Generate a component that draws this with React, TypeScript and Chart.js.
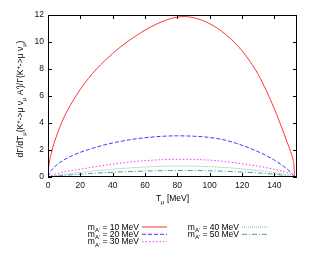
import React, { useEffect, useRef } from "react";
import { Chart, registerables } from "chart.js";

Chart.register(...registerables);

const X_TICKS = [0, 20, 40, 60, 80, 100, 120, 140];
const Y_TICKS = [0, 2, 4, 6, 8, 10, 12];
const X_MAX = 154;
const Y_MAX = 12;

const T10 = [0, 0.3, 1, 2, 3, 5, 7, 10, 15, 20, 25, 30, 35, 40, 45, 50, 55, 60, 65, 70, 75, 80, 85, 90, 95, 100, 105, 110, 115, 120, 125, 130, 135, 140, 143, 146, 148, 150, 151.5, 152.2, 152.4];
const V10 = [0, 0.6, 1.2, 1.75, 2.2, 2.95, 3.6, 4.45, 5.55, 6.5, 7.3, 8.0, 8.6, 9.15, 9.65, 10.1, 10.5, 10.88, 11.2, 11.48, 11.7, 11.85, 11.88, 11.8, 11.62, 11.36, 11.0, 10.55, 10.0, 9.35, 8.55, 7.6, 6.4, 5.05, 4.15, 3.2, 2.55, 1.9, 1.3, 0.7, 0];

const T20 = [0, 1, 2, 4, 7, 10, 15, 20, 25, 30, 40, 50, 60, 70, 80, 90, 100, 110, 120, 130, 135, 140, 145, 148, 150, 151.3, 152.1];
const V20 = [0, 0.3, 0.48, 0.75, 1.05, 1.28, 1.58, 1.83, 2.03, 2.22, 2.52, 2.75, 2.91, 3.01, 3.05, 3.02, 2.93, 2.72, 2.35, 1.87, 1.58, 1.25, 0.85, 0.58, 0.36, 0.18, 0];

const T30 = [0, 1, 3, 6, 10, 15, 20, 30, 40, 50, 60, 70, 80, 90, 100, 110, 120, 130, 140, 145, 148, 150, 151.6];
const V30 = [0, 0.08, 0.16, 0.26, 0.37, 0.48, 0.58, 0.77, 0.95, 1.1, 1.21, 1.28, 1.31, 1.3, 1.25, 1.14, 0.98, 0.8, 0.57, 0.43, 0.3, 0.18, 0];

const T40 = [0, 3, 6, 10, 20, 30, 40, 50, 60, 70, 80, 90, 100, 110, 120, 130, 140, 145, 148, 150.9];
const V40 = [0, 0.06, 0.12, 0.19, 0.34, 0.47, 0.58, 0.67, 0.74, 0.79, 0.81, 0.8, 0.77, 0.7, 0.6, 0.48, 0.33, 0.23, 0.15, 0];

const T50 = [0, 3, 6, 10, 20, 30, 40, 50, 60, 70, 80, 90, 100, 110, 120, 130, 140, 145, 148, 150];
const V50 = [0, 0.04, 0.08, 0.12, 0.21, 0.29, 0.35, 0.4, 0.44, 0.47, 0.48, 0.48, 0.46, 0.42, 0.37, 0.3, 0.2, 0.14, 0.08, 0];

const MASSES = ["10", "20", "30", "40", "50"];
const COLORS = ["#ff3333", "#3a3aff", "#ff33ff", "#88c088", "#33a6a6"];
const DASHES: number[][] = [[], [4, 2], [1.5, 2], [1, 1], [5, 2, 1, 2]];

const FONT = "'Liberation Sans', Arial, Helvetica, sans-serif";

type Seg = { t: string; m?: "sub" | "sup" };

function segWidth(ctx: CanvasRenderingContext2D, segs: Seg[], size: number) {
  let w = 0;
  for (const s of segs) {
    const sz = s.m ? size * 0.7 : size;
    ctx.font = `${sz}px ${FONT}`;
    w += ctx.measureText(s.t).width;
  }
  return w;
}

function drawSegs(ctx: CanvasRenderingContext2D, segs: Seg[], x: number, y: number, size: number) {
  let cx = x;
  ctx.textBaseline = "alphabetic";
  ctx.textAlign = "left";
  for (const s of segs) {
    const sz = s.m ? size * 0.7 : size;
    ctx.font = `${sz}px ${FONT}`;
    const dy = s.m === "sub" ? size * 0.3 : s.m === "sup" ? -size * 0.4 : 0;
    ctx.fillText(s.t, cx, y + dy);
    cx += ctx.measureText(s.t).width;
  }
}

const Y_TITLE: Seg[] = [
  { t: "d\u0393/dT" }, { t: "\u03bc", m: "sub" }, { t: "(K" }, { t: "+", m: "sup" },
  { t: "->\u03bc \u03bd" }, { t: "\u03bc", m: "sub" }, { t: " A')/\u0393(K" }, { t: "+", m: "sup" },
  { t: "->\u03bc \u03bd" }, { t: "\u03bc", m: "sub" }, { t: ")" },
];
const X_TITLE: Seg[] = [{ t: "T" }, { t: "\u03bc", m: "sub" }, { t: " [MeV]" }];

const overlay = {
  id: "overlay",
  afterDraw(chart: any) {
    const { ctx, chartArea } = chart;
    const { left, right, top, bottom } = chartArea;
    const xs = chart.scales.x;
    const ys = chart.scales.y;
    ctx.save();
    ctx.strokeStyle = "#000";
    ctx.lineWidth = 1;
    ctx.setLineDash([]);
    ctx.beginPath();
    for (const v of X_TICKS) {
      const px = Math.round(xs.getPixelForValue(v)) + 0.5;
      ctx.moveTo(px, bottom);
      ctx.lineTo(px, bottom - 4);
      ctx.moveTo(px, top);
      ctx.lineTo(px, top + 4);
    }
    for (const v of Y_TICKS) {
      const py = Math.round(ys.getPixelForValue(v)) + 0.5;
      ctx.moveTo(left, py);
      ctx.lineTo(left + 4, py);
      ctx.moveTo(right, py);
      ctx.lineTo(right - 4, py);
    }
    ctx.stroke();
    ctx.strokeRect(Math.round(left) + 0.5, Math.round(top) + 0.5, Math.round(right - left) - 1, Math.round(bottom - top) - 1);

    ctx.fillStyle = "#000";
    const size = 8.5;
    const xw = segWidth(ctx, X_TITLE, size);
    drawSegs(ctx, X_TITLE, (left + right) / 2 - xw / 2, 201, size);
    const yw = segWidth(ctx, Y_TITLE, size);
    ctx.save();
    ctx.translate(20, (top + bottom) / 2 + 3);
    ctx.rotate(-Math.PI / 2);
    drawSegs(ctx, Y_TITLE, -yw / 2, 3, size);
    ctx.restore();

    const lsize = 8.5;
    const rows = [226.5, 233.8, 241.2];
    const cols = [
      { textRight: 139, s0: 142, s1: 167 },
      { textRight: 239, s0: 242, s1: 267 },
    ];
    MASSES.forEach((m, i) => {
      const col = cols[i < 3 ? 0 : 1];
      const ry = rows[i < 3 ? i : i - 3];
      const segs: Seg[] = [{ t: "m" }, { t: "A'", m: "sub" }, { t: ` = ${m} MeV` }];
      const w = segWidth(ctx, segs, lsize);
      ctx.fillStyle = "#000";
      drawSegs(ctx, segs, col.textRight - w, ry + 3, lsize);
      ctx.strokeStyle = COLORS[i];
      ctx.setLineDash(DASHES[i]);
      ctx.beginPath();
      ctx.moveTo(col.s0, ry + 0.5);
      ctx.lineTo(col.s1, ry + 0.5);
      ctx.stroke();
    });
    ctx.restore();
  },
};

function toPts(t: number[], v: number[]) {
  return t.map((x, i) => ({ x, y: v[i] }));
}

export default function App() {
  const ref = useRef<HTMLCanvasElement>(null);
  useEffect(() => {
    if (!ref.current) return;
    const series = [toPts(T10, V10), toPts(T20, V20), toPts(T30, V30), toPts(T40, V40), toPts(T50, V50)];
    const chart = new Chart(ref.current, {
      type: "line",
      data: {
        datasets: series.map((d, i) => ({
          label: `m_A' = ${MASSES[i]} MeV`,
          data: d,
          borderColor: COLORS[i],
          borderWidth: 1,
          borderDash: DASHES[i],
          pointRadius: 0,
          cubicInterpolationMode: "monotone" as const,
          fill: false,
        })),
      },
      options: {
        animation: false,
        responsive: false,
        devicePixelRatio: 1,
        layout: { padding: { top: 15, right: 18, left: 0, bottom: 0 } },
        plugins: { legend: { display: false }, tooltip: { enabled: false } },
        scales: {
          x: {
            type: "linear",
            min: 0,
            max: X_MAX,
            grid: { display: false, drawTicks: false, tickLength: 0 },
            border: { display: false },
            afterBuildTicks: (s: any) => { s.ticks = X_TICKS.map((v) => ({ value: v })); },
            afterFit: (s: any) => { s.height = 76; },
            ticks: { color: "#111", font: { family: FONT, size: 8.5 }, padding: 4, maxRotation: 0, autoSkip: false },
          },
          y: {
            min: 0,
            max: Y_MAX,
            grid: { display: false, drawTicks: false, tickLength: 0 },
            border: { display: false },
            afterBuildTicks: (s: any) => { s.ticks = Y_TICKS.map((v) => ({ value: v })); },
            afterFit: (s: any) => { s.width = 48; },
            ticks: { color: "#111", font: { family: FONT, size: 8.5 }, padding: 4, autoSkip: false },
          },
        },
      },
      plugins: [overlay],
    });
    return () => chart.destroy();
  }, []);
  return (
    <div style={{ position: "fixed", left: 0, top: 0, width: 315, height: 253, background: "#fff" }}>
      <canvas ref={ref} width={315} height={253} />
    </div>
  );
}
